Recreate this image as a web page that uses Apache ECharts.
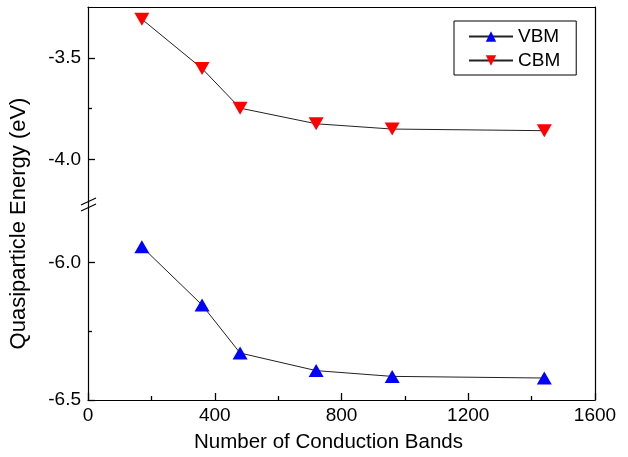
<!DOCTYPE html>
<html>
<head>
<meta charset="utf-8">
<script src="https://cdn.jsdelivr.net/npm/echarts@6/dist/echarts.min.js"></script>
<style>html,body{margin:0;padding:0;background:#fff;}#c{width:628px;height:457px;}</style>
</head>
<body>
<div id="c"></div>
<script>
var bands = [170, 360, 480, 720, 960, 1440];
var vbm = [-5.942, -6.154, -6.329, -6.393, -6.414, -6.420];
var cbm = [-3.31, -3.553, -3.748, -3.825, -3.851, -3.859];
var xTicks = [0, 400, 800, 1200, 1600];
var xMinor = [200, 600, 1000, 1400];
var yTicksTop = [-3.5, -4.0];
var yMinorTop = [-3.75];
var yTicksBot = [-6.0, -6.5];
var yMinorBot = [-6.25];

var FONT = 'Liberation Sans, Arial, sans-serif';
var L = 88, R = 33;
var chart = echarts.init(document.getElementById('c'), null, {renderer: 'canvas'});

function pairs(xs, ys) { return xs.map(function (x, i) { return [x, ys[i]]; }); }

var axisLineStyle = {color: '#000', width: 1.2};
function labelY(idx, min, max, ticks) {
  return {
    type: 'value', gridIndex: idx, min: min, max: max, position: 'left',
    axisLine: {show: true, onZero: false, lineStyle: axisLineStyle},
    axisTick: {show: false},
    axisLabel: {show: true, fontSize: 19, fontFamily: FONT, color: '#000', margin: 7,
      customValues: ticks, formatter: function (v) { return v.toFixed(1); }},
    splitLine: {show: false}
  };
}
function tickY(idx, min, max, ticks, len) {
  return {
    type: 'value', gridIndex: idx, min: min, max: max, position: 'left',
    axisLine: {show: false},
    axisTick: {show: true, inside: true, length: len, lineStyle: {color: '#000', width: 1.3}, customValues: ticks},
    axisLabel: {show: false, customValues: ticks},
    splitLine: {show: false}
  };
}
function tickX(idx, ticks, len) {
  return {
    type: 'value', gridIndex: idx, min: 0, max: 1600, position: 'bottom',
    axisLine: {show: false},
    axisTick: {show: true, inside: true, length: len, lineStyle: {color: '#000', width: 1.3}, customValues: ticks},
    axisLabel: {show: false, customValues: ticks},
    splitLine: {show: false}
  };
}
function rightY(idx, min, max) {
  return {
    type: 'value', gridIndex: idx, min: min, max: max, position: 'right',
    axisLine: {show: true, onZero: false, lineStyle: axisLineStyle},
    axisTick: {show: false}, axisLabel: {show: false}, splitLine: {show: false}
  };
}

var option = {
  animation: false,
  backgroundColor: '#fff',
  grid: [
    {left: L, right: R, top: 7, height: 198},
    {left: L, right: R, top: 205, height: 195},
    {left: L, right: R, top: 47, height: 353}
  ],
  xAxis: [
    {type: 'value', gridIndex: 0, min: 0, max: 1600, position: 'top',
      axisLine: {show: true, onZero: false, lineStyle: axisLineStyle},
      axisTick: {show: false}, axisLabel: {show: false}, splitLine: {show: false}},
    {type: 'value', gridIndex: 1, min: 0, max: 1600, position: 'bottom',
      axisLine: {show: true, onZero: false, lineStyle: axisLineStyle},
      axisTick: {show: false},
      axisLabel: {fontSize: 19, fontFamily: FONT, color: '#000', margin: 6, customValues: xTicks,
        formatter: function (v) { return String(v); }},
      splitLine: {show: false},
      name: 'Number of Conduction Bands', nameLocation: 'middle', nameGap: 32,
      nameTextStyle: {fontSize: 20.5, fontFamily: FONT, color: '#000', padding: [0, 26, 0, 0]}},
    {type: 'value', gridIndex: 2, min: 0, max: 1600, show: false},
    tickX(1, xTicks, 7),
    tickX(1, xMinor, 4)
  ],
  yAxis: [
    labelY(0, -4.225, -3.25, yTicksTop),
    tickY(0, -4.225, -3.25, yTicksTop, 7),
    tickY(0, -4.225, -3.25, yMinorTop, 4),
    rightY(0, -4.225, -3.25),
    labelY(1, -6.5, -5.79, yTicksBot),
    tickY(1, -6.5, -5.79, yTicksBot, 7),
    tickY(1, -6.5, -5.79, yMinorBot, 4),
    rightY(1, -6.5, -5.79),
    {type: 'value', gridIndex: 2, min: 0, max: 1, position: 'left',
      axisLine: {show: false}, axisTick: {show: false}, axisLabel: {show: false}, splitLine: {show: false},
      name: 'Quasiparticle Energy (eV)', nameLocation: 'middle', nameGap: 61,
      nameTextStyle: {fontSize: 22, fontFamily: FONT, color: '#000'}}
  ],
  legend: {
    left: 454, top: 21, orient: 'vertical',
    data: ['VBM', 'CBM'],
    borderColor: '#000', borderWidth: 1, backgroundColor: '#fff',
    padding: [6, 16, 5, 14], itemGap: 5, itemWidth: 44, itemHeight: 13,
    textStyle: {fontSize: 19, fontFamily: FONT, color: '#000'}
  },
  series: [
    {name: 'VBM', type: 'line', xAxisIndex: 1, yAxisIndex: 4, data: pairs(bands, vbm),
      symbol: 'triangle', symbolSize: [15, 13],
      itemStyle: {color: '#0000ff'}, lineStyle: {color: '#222', width: 1}},
    {name: 'CBM', type: 'line', xAxisIndex: 0, yAxisIndex: 0, data: pairs(bands, cbm),
      symbol: 'path://M0,0L2,0L1,1.73Z', symbolSize: [15, 13],
      itemStyle: {color: '#ff0000'}, lineStyle: {color: '#222', width: 1}}
  ],
  graphic: [
    {type: 'line', shape: {x1: 81, y1: 205, x2: 96, y2: 198}, style: {stroke: '#000', lineWidth: 1.2}, z: 100},
    {type: 'line', shape: {x1: 81, y1: 211, x2: 96, y2: 204}, style: {stroke: '#000', lineWidth: 1.2}, z: 100}
  ]
};
chart.setOption(option);
</script>
</body>
</html>
